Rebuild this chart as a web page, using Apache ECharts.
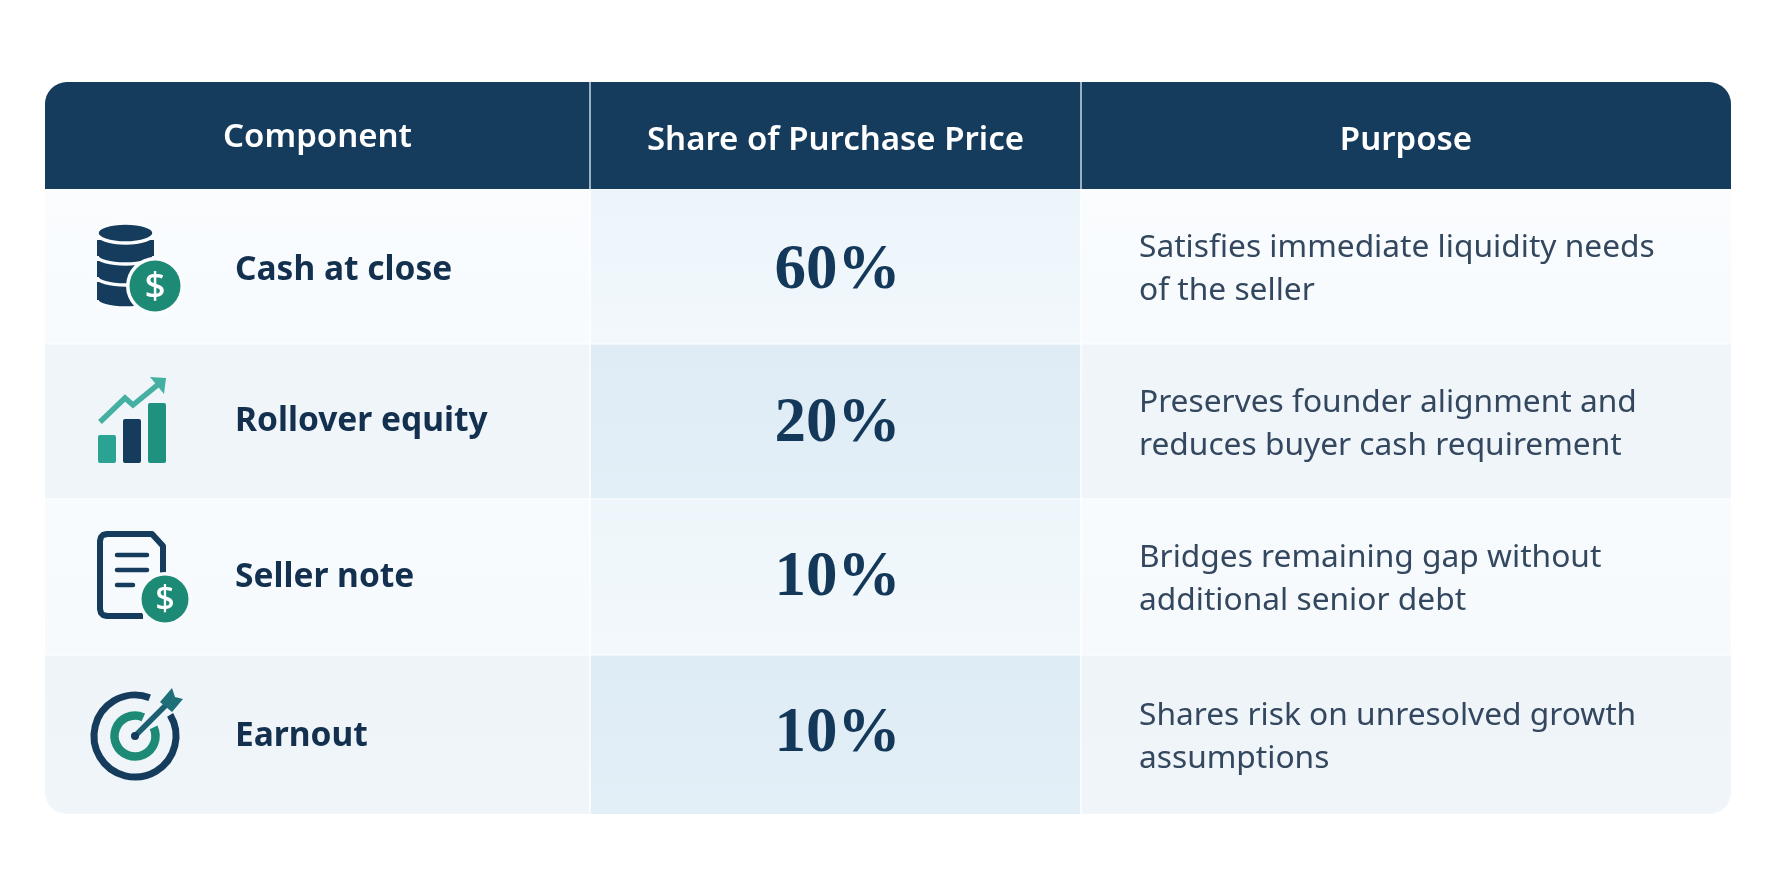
<!DOCTYPE html>
<html>
<head>
<meta charset="utf-8">
<style>html,body{margin:0;padding:0;background:#fff}#chart{width:1774px;height:887px}</style>
<script src="https://cdn.jsdelivr.net/npm/echarts@6/dist/echarts.min.js"></script>
</head>
<body>
<div id="chart"></div>
<script>
// table content
var headers = ['Component', 'Share of Purchase Price', 'Purpose'];
var components = ['Cash at close', 'Rollover equity', 'Seller note', 'Earnout'];
var shares = [60, 20, 10, 10];
var purposes = [
  ['Satisfies immediate liquidity needs', 'of the seller'],
  ['Preserves founder alignment and', 'reduces buyer cash requirement'],
  ['Bridges remaining gap without', 'additional senior debt'],
  ['Shares risk on unresolved growth', 'assumptions']
];

// layout, in axis units
var colEdges = [45, 590, 1081, 1731];
var rowEdges = [189, 344, 499, 655, 814];
var headTop = 82;
var labelNudge = [4, 0, 0, 2];
var shareNudge = [5, 3, 2, 0];

var NAVY = '#153c5c', TEAL = '#1d8a76';
var sideBg = [['#fafcfe', '#f7fbfe'], ['#eff5f9', '#f0f5f9'], ['#f8fbfe', '#f6fafd'], ['#eff4f9', '#f0f5f9']];
var midBg = [['#ecf5fb', '#f2f8fc'], ['#dfecf5', '#e3eff7'], ['#eef6fb', '#f2f8fc'], ['#deecf5', '#e3eff7']];

function grad(a, b) {
  return { type: 'linear', x: 0, y: 0, x2: 0, y2: 1, colorStops: [{ offset: 0, color: a }, { offset: 1, color: b }] };
}
function txt(x, y, text, size, weight, color, family, align) {
  return { type: 'text', style: { x: x, y: y, text: text, fontSize: size, fontWeight: weight, fill: color, fontFamily: family, align: align || 'left', verticalAlign: 'middle' } };
}
function box(x0, y0, x1, y1, fill, r) {
  return { type: 'rect', shape: { x: x0, y: y0, width: x1 - x0, height: y1 - y0, r: r || 0 }, style: { fill: fill } };
}
function vline(x, y0, y1, color) {
  return { type: 'line', shape: { x1: x, y1: y0, x2: x, y2: y1 }, style: { stroke: color, lineWidth: 1.5 } };
}
function coin(cx, cy, r, bg) {
  return [
    { type: 'circle', shape: { cx: cx, cy: cy, r: r + 3.5 }, style: { fill: bg } },
    { type: 'circle', shape: { cx: cx, cy: cy, r: r }, style: { fill: TEAL } },
    txt(cx, cy + 1, '$', r * 1.45, 500, '#fff', 'Noto Sans', 'center')
  ];
}

// icons are drawn around the same table positions as the row they belong to
function iconStack(bg) {
  var out = [];
  [[282, 300], [261, 277], [240, 256]].forEach(function (d) {
    out.push({ type: 'ellipse', shape: { cx: 125.5, cy: d[1], rx: 28.5, ry: 8 }, style: { fill: NAVY, stroke: bg, lineWidth: 3.5 } });
    out.push(box(97, d[0], 154, d[1], NAVY));
  });
  out.push({ type: 'ellipse', shape: { cx: 125.5, cy: 233, rx: 28.5, ry: 10 }, style: { fill: NAVY, stroke: bg, lineWidth: 3.5 } });
  return out.concat(coin(155, 286, 25.5, bg));
}
function iconBars() {
  return [
    box(98, 435, 116, 463, '#2aa294', 2),
    box(123, 419, 141, 463, NAVY, 2),
    box(148, 403, 166, 463, '#1f917f', 2),
    { type: 'polyline', shape: { points: [[100, 422], [125, 398], [133, 405], [161, 382]] }, style: { stroke: '#45b0a2', lineWidth: 5.5, fill: null, lineJoin: 'miter' } },
    { type: 'polygon', shape: { points: [[150, 377], [166, 378], [164, 394]] }, style: { fill: '#45b0a2' } }
  ];
}
function iconNote(bg) {
  return [
    { type: 'polyline', shape: { points: [[143, 616], [107, 616], [103, 615], [101, 613], [100, 609], [100, 541], [101, 537], [103, 535], [107, 534], [152, 534], [163, 546], [163, 575]] }, style: { stroke: NAVY, lineWidth: 6, fill: null, lineJoin: 'round' } },
    { type: 'line', shape: { x1: 117, y1: 555, x2: 147, y2: 555 }, style: { stroke: NAVY, lineWidth: 4.5, lineCap: 'round' } },
    { type: 'line', shape: { x1: 117, y1: 570, x2: 147, y2: 570 }, style: { stroke: NAVY, lineWidth: 4.5, lineCap: 'round' } },
    { type: 'line', shape: { x1: 117, y1: 585, x2: 133, y2: 585 }, style: { stroke: NAVY, lineWidth: 4.5, lineCap: 'round' } }
  ].concat(coin(165, 599, 23.5, bg));
}
function iconTarget() {
  var d = Math.PI / 180;
  return [
    { type: 'arc', shape: { cx: 135, cy: 736, r: 41, startAngle: -31 * d, endAngle: 291 * d, clockwise: true }, style: { stroke: NAVY, lineWidth: 7, fill: null } },
    { type: 'arc', shape: { cx: 135, cy: 736, r: 20.5, startAngle: -25 * d, endAngle: 294 * d, clockwise: true }, style: { stroke: TEAL, lineWidth: 8.5, fill: null } },
    { type: 'line', shape: { x1: 135, y1: 736, x2: 168, y2: 703 }, style: { stroke: '#1c5f70', lineWidth: 5.5 } },
    { type: 'polygon', shape: { points: [[160, 702], [172, 688], [175, 697], [183, 699], [172, 712]] }, style: { fill: '#1f6f78' } },
    { type: 'circle', shape: { cx: 135, cy: 736, r: 4 }, style: { fill: NAVY } }
  ];
}

function renderCells(params, api) {
  var i = api.value(0);
  var x = colEdges.map(function (v) { return api.coord([v, 0])[0]; });
  var y0 = api.coord([0, rowEdges[i]])[1], y1 = api.coord([0, rowEdges[i + 1]])[1];
  var cy = (y0 + y1) / 2;
  var last = i === components.length - 1;
  var bg = sideBg[i][0];
  var icon = [iconStack, iconBars, iconNote, iconTarget][i](bg);
  return {
    type: 'group',
    children: [
      box(x[0], y0, x[1], y1, grad(sideBg[i][0], sideBg[i][1]), last ? [0, 0, 0, 22] : 0),
      box(x[1], y0, x[2], y1, grad(midBg[i][0], midBg[i][1])),
      box(x[2], y0, x[3], y1, grad(sideBg[i][0], sideBg[i][1]), last ? [0, 0, 22, 0] : 0),
      vline(x[1], y0, y1, '#ffffff'),
      vline(x[2], y0, y1, '#ffffff'),
      { type: 'line', shape: { x1: x[0], y1: y0, x2: x[3], y2: y0 }, style: { stroke: '#ffffff', lineWidth: 1 } },
      txt(x[0] + 190, cy + labelNudge[i], components[i], 33.5, 700, '#14304f', 'Noto Sans'),
      txt((x[1] + x[2]) / 2 + 2, cy + shareNudge[i], shares[i] + '%', 63, 700, '#14385a', 'Liberation Serif', 'center'),
      txt(x[2] + 58, cy - 19, purposes[i][0], 31.7, 400, '#33475f', 'Noto Sans'),
      txt(x[2] + 58, cy + 24, purposes[i][1], 31.7, 400, '#33475f', 'Noto Sans')
    ].concat(icon)
  };
}

function renderHeader(params, api) {
  var i = api.value(0);
  var x0 = api.coord([colEdges[i], 0])[0], x1 = api.coord([colEdges[i + 1], 0])[0];
  var y0 = api.coord([0, headTop])[1], y1 = api.coord([0, rowEdges[0]])[1];
  var r = i === 0 ? [22, 0, 0, 0] : i === 2 ? [0, 22, 0, 0] : 0;
  var kids = [
    box(x0, y0, x1, y1, NAVY, r),
    txt((x0 + x1) / 2, i === 0 ? 138 : 141, headers[i], 33, 600, '#ffffff', 'Noto Sans', 'center')
  ];
  if (i > 0) kids.push(vline(x0, y0, y1, '#c6d8e4'));
  return { type: 'group', children: kids };
}

var chart = echarts.init(document.getElementById('chart'), null, { renderer: 'canvas' });
chart.setOption({
  animation: false,
  backgroundColor: '#ffffff',
  grid: { left: 0, right: 0, top: 0, bottom: 0 },
  xAxis: { type: 'value', min: 0, max: 1774, show: false },
  yAxis: { type: 'value', min: 0, max: 887, inverse: true, show: false },
  series: [
    { type: 'custom', name: 'cells', coordinateSystem: 'cartesian2d', clip: false, renderItem: renderCells, data: components.map(function (c, i) { return [i]; }), silent: true },
    { type: 'custom', name: 'header', coordinateSystem: 'cartesian2d', clip: false, renderItem: renderHeader, data: headers.map(function (c, i) { return [i]; }), silent: true }
  ]
});
</script>
</body>
</html>
